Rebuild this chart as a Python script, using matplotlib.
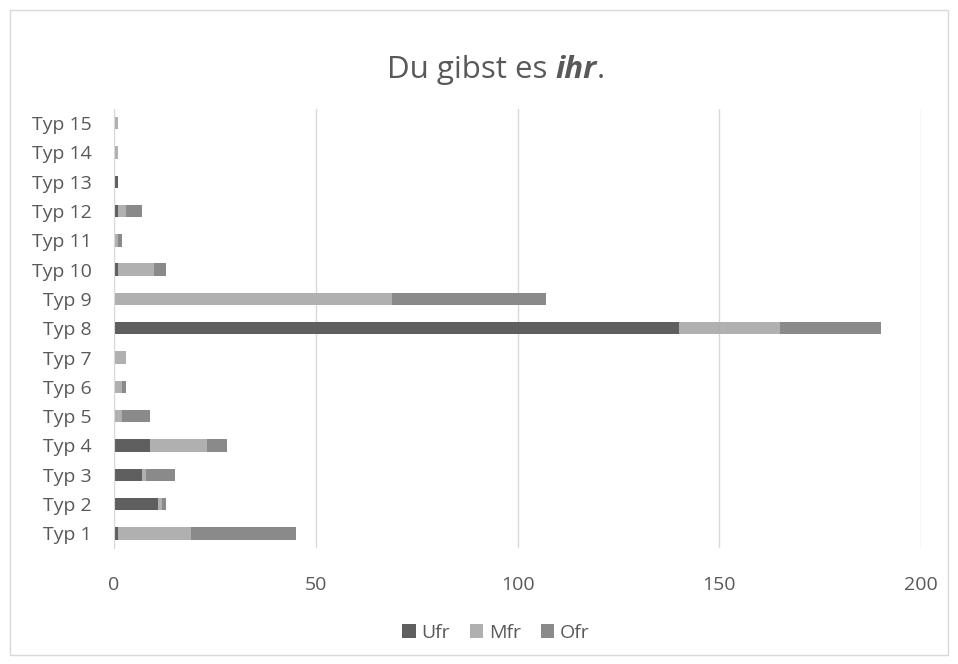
import matplotlib
matplotlib.use("Agg")
import matplotlib.pyplot as plt
import numpy as np
from matplotlib.patches import Rectangle
import matplotlib.offsetbox as ob

categories = ["Typ 1", "Typ 2", "Typ 3", "Typ 4", "Typ 5", "Typ 6", "Typ 7", "Typ 8",
              "Typ 9", "Typ 10", "Typ 11", "Typ 12", "Typ 13", "Typ 14", "Typ 15"]
ufr = [1, 11, 7, 9, 0, 0, 0, 140, 0, 1, 0, 1, 1, 0, 0]
mfr = [18, 1, 1, 14, 2, 2, 3, 25, 69, 9, 1, 2, 0, 1, 1]
ofr = [26, 1, 7, 5, 7, 1, 0, 25, 38, 3, 1, 4, 0, 0, 0]
x_ticks = [0, 50, 100, 150, 200]

plt.rcParams['font.family'] = ['Open Sans', 'DejaVu Sans']
txt = "#595959"
fs = 14
tfs = 22.5

fig = plt.figure(figsize=(9.58, 6.64), dpi=100)
fig.patches.append(Rectangle((10/958, 9/664), 938/958, 645/664, transform=fig.transFigure,
                             fill=False, edgecolor="#d9d9d9", linewidth=1))
ax = fig.add_axes([114/958, 1 - 548/664, (921 - 114)/958, (548 - 108.5)/664])

y = np.arange(len(categories))
u = np.array(ufr); m = np.array(mfr); o = np.array(ofr)
h = 0.42
ax.barh(y, u, height=h, color="#5f5f5f", label="Ufr", zorder=3)
ax.barh(y, m, left=u, height=h, color="#b0b0b0", label="Mfr", zorder=3)
ax.barh(y, o, left=u + m, height=h, color="#8a8a8a", label="Ofr", zorder=3)

ax.set_xlim(0, 200)
ax.set_ylim(-0.5, len(categories) - 0.5)
ax.set_yticks(y)
ax.set_yticklabels(categories, color=txt, fontsize=fs)
ax.set_xticks(x_ticks)
ax.set_xticklabels([str(v) for v in x_ticks], color=txt, fontsize=fs)
ax.tick_params(axis="both", length=0)
ax.tick_params(axis="x", pad=20)
ax.tick_params(axis="y", pad=16)
ax.grid(axis="x", color="#d9d9d9", linewidth=1, zorder=0)
for s in ["top", "right", "bottom"]:
    ax.spines[s].set_visible(False)
ax.spines["left"].set_color("#d9d9d9")
ax.spines["left"].set_zorder(4)

tA = ob.TextArea("Du gibst es ", textprops=dict(fontsize=tfs, color=txt))
tB = ob.TextArea("ihr", textprops=dict(fontsize=tfs, color=txt, fontweight="bold", fontstyle="italic"))
tC = ob.TextArea(".", textprops=dict(fontsize=tfs, color=txt))
box = ob.HPacker(children=[tA, tB, tC], align="baseline", pad=0, sep=0)
anch = ob.AnchoredOffsetbox(loc="center", child=box, pad=0, frameon=False,
                            bbox_to_anchor=(496/958, 1 - 70/664), bbox_transform=fig.transFigure,
                            borderpad=0)
fig.add_artist(anch)

handles, labels = ax.get_legend_handles_labels()
fig.legend(handles, labels, loc="center", bbox_to_anchor=(496/958, 1 - 633/664), ncol=3,
           frameon=False, fontsize=fs, labelcolor=txt, handlelength=0.7, handleheight=0.7,
           handletextpad=0.3, columnspacing=1.0)

fig.savefig("out.png", dpi=100)
